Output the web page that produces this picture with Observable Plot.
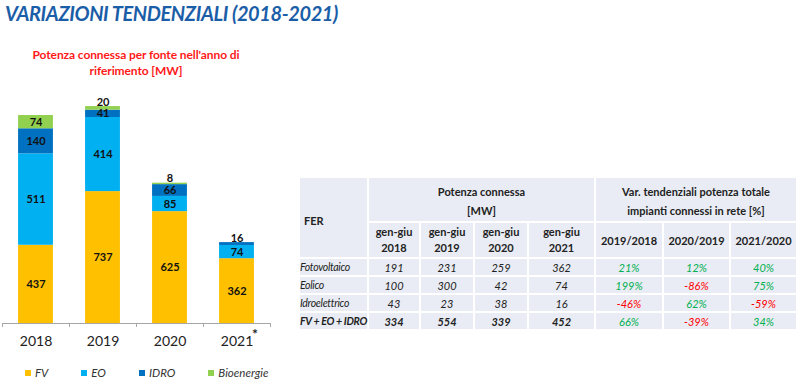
<!DOCTYPE html>
<html><head><meta charset="utf-8">
<script src="https://cdn.jsdelivr.net/npm/d3@7"></script>
<script src="https://cdn.jsdelivr.net/npm/@observablehq/plot@0.6"></script>
<style>
body{margin:0;width:800px;height:380px;position:relative;background:#fff;font-family:Lato,"Open Sans",sans-serif;overflow:hidden}
#title{position:absolute;left:5px;top:1px;font:italic 700 20px Lato;letter-spacing:-0.4px;color:#1b5ea8;white-space:nowrap}
#sub{position:absolute;left:16px;width:240px;top:47px;font:700 12px Lato;letter-spacing:-0.1px;color:#ff1a1a;text-align:center;line-height:16px}
#chart{position:absolute;left:0;top:90px}
#legend{position:absolute;left:25px;top:366px;display:flex;gap:33px;font:italic 400 11.5px Lato;color:#333}
#legend .it{display:flex;align-items:center;gap:4px}
#legend .sw{width:6px;height:6px}
.cell{position:absolute;background:#e9ecf4;display:flex;align-items:center;justify-content:center;text-align:center;font:11px Lato;color:#222;box-sizing:border-box;line-height:17px;white-space:nowrap}
</style></head><body>
<div id="title">VARIAZIONI TENDENZIALI (2018-2021)</div>
<div id="sub">Potenza connessa per fonte nell'anno di<br>riferimento [MW]</div>
<div id="chart"></div>
<div id="legend"></div>
<div id="table"></div>
<script>
// ---- chart data ----
const years = ["2018", "2019", "2020", "2021"];
const sources = ["FV", "EO", "IDRO", "Bioenergie"];
const colors = ["#FFC000", "#00B0F0", "#0070C0", "#92D050"];
const fv = [437, 737, 625, 362];
const eo = [511, 414, 85, 74];
const idro = [140, 41, 66, 16];
const bio = [74, 20, 8, 0];

// ---- table data ----
const tableHeadLeft = "FER";
const tableHead1 = ["Potenza connessa", "[MW]"];
const tableHead2 = ["Var. tendenziali potenza totale", "impianti connessi in rete [%]"];
const tablePeriodLabel = "gen-giu";
const tableYears = ["2018", "2019", "2020", "2021"];
const tableRatios = ["2019/2018", "2020/2019", "2021/2020"];
const tableRows = ["Fotovoltaico", "Eolico", "Idroelettrico", "FV + EO + IDRO"];
const tFotovoltaico = [191, 231, 259, 362];
const tEolico = [100, 300, 42, 74];
const tIdro = [43, 23, 38, 16];
const tTotale = [334, 554, 339, 452];
const vFotovoltaico = [21, 12, 40];
const vEolico = [199, -86, 75];
const vIdro = [-46, 62, -59];
const vTotale = [66, -39, 34];

// ---- stacked segments ----
const series = [fv, eo, idro, bio];
const segs = [];
const totals = years.map((yr, i) => {
  let acc = 0;
  series.forEach((s, k) => {
    const v = s[i];
    if (v > 0) segs.push({i, year: yr, source: sources[k], value: v, y1: acc, y2: acc + v});
    acc += v;
  });
  return acc;
});
const inside = segs.filter(d => d.value >= 30);
const above = segs.filter(d => d.value < 30);

const chart = Plot.plot({
  width: 300, height: 260,
  marginLeft: 2, marginRight: 30, marginTop: 10, marginBottom: 27,
  x: {type: "linear", domain: [0, years.length], axis: null},
  y: {domain: [0, 1246], axis: null},
  color: {domain: sources, range: colors},
  style: {fontFamily: "Lato", background: "transparent", overflow: "visible"},
  marks: [
    Plot.rect(segs, {x1: d => d.i + 0.24, x2: d => d.i + 0.76, y1: "y1", y2: "y2", fill: "source"}),
    Plot.ruleY([0], {x1: 0, x2: years.length, stroke: "#a6a6a6"}),
    Plot.ruleX(d3.range(years.length + 1), {x: d => d, y1: 0, y2: -22, stroke: "#a6a6a6"}),
    Plot.text(inside, {x: d => d.i + 0.5, y: d => (d.y1 + d.y2) / 2, text: d => String(d.value), fontWeight: 700, fontSize: 11, fill: "#111"}),
    Plot.text(above, {x: d => d.i + 0.5, y: d => totals[d.i], text: d => String(d.value), lineAnchor: "bottom", dy: -1, fontWeight: 700, fontSize: 11, fill: "#111"}),
    Plot.text(years, {x: (d, i) => i + 0.5, y: 0, dy: 18, text: d => d, fontSize: 14, fill: "#222"}),
    Plot.text(["*"], {x: () => years.length - 0.5, y: 0, dx: 18, dy: 11, text: d => d, fontSize: 14, fontWeight: 700, fill: "#222"})
  ]
});
document.getElementById("chart").appendChild(chart);

// ---- legend ----
const leg = document.getElementById("legend");
sources.forEach((s, k) => {
  const it = document.createElement("div"); it.className = "it";
  const sw = document.createElement("div"); sw.className = "sw"; sw.style.background = colors[k];
  const tx = document.createElement("span"); tx.textContent = s;
  it.appendChild(sw); it.appendChild(tx); leg.appendChild(it);
});

// ---- table ----
const colEdges = [300, 368, 420, 474, 528, 595, 663, 730, 797];
const headEdges = [177, 222, 258];
const rowEdges = [258, 276, 294, 312, 330];
const tbl = document.getElementById("table");
function cell(c0, c1, r0, r1, html, style) {
  const d = document.createElement("div");
  d.className = "cell";
  d.style.left = (c0 + 1) + "px"; d.style.width = (c1 - c0 - 2) + "px";
  d.style.top = (r0 + 1) + "px"; d.style.height = (r1 - r0 - 2) + "px";
  d.innerHTML = html;
  Object.assign(d.style, style || {});
  tbl.appendChild(d);
}
const E = colEdges;
cell(E[0] - 1, E[1], headEdges[0], headEdges[2], tableHeadLeft, {fontWeight: 700, justifyContent: "flex-start", paddingLeft: "4px", paddingTop: "6px"});
cell(E[1], E[5], headEdges[0], headEdges[1], tableHead1.join("<br>"), {fontWeight: 700, lineHeight: "19px", paddingTop: "2px"});
cell(E[5], E[8], headEdges[0], headEdges[1], tableHead2.join("<br>"), {fontWeight: 700, lineHeight: "19px", paddingTop: "2px"});
tableYears.forEach((y, j) => cell(E[1 + j], E[2 + j], headEdges[1], headEdges[2], tablePeriodLabel + "<br>" + y, {fontWeight: 700, lineHeight: "16px"}));
tableRatios.forEach((r, j) => cell(E[5 + j], E[6 + j], headEdges[1], headEdges[2], r, {fontWeight: 700}));
const tVals = [tFotovoltaico, tEolico, tIdro, tTotale];
const vVals = [vFotovoltaico, vEolico, vIdro, vTotale];
tableRows.forEach((name, r) => {
  const bold = r === tableRows.length - 1 ? 700 : 400;
  const r0 = rowEdges[r], r1 = rowEdges[r + 1];
  cell(E[0] - 1, E[1], r0, r1, name, {fontStyle: "italic", fontWeight: bold, justifyContent: "flex-start", paddingLeft: "0px", fontSize: "10.5px", letterSpacing: "-0.3px", overflow: "visible"});
  tVals[r].forEach((v, j) => cell(E[1 + j], E[2 + j], r0, r1, String(v), {fontStyle: "italic", fontWeight: bold}));
  vVals[r].forEach((v, j) => cell(E[5 + j], E[6 + j], r0, r1, v + "%", {fontStyle: "italic", color: v >= 0 ? "#00b050" : "#ff0000"}));
});
</script>
</body></html>
